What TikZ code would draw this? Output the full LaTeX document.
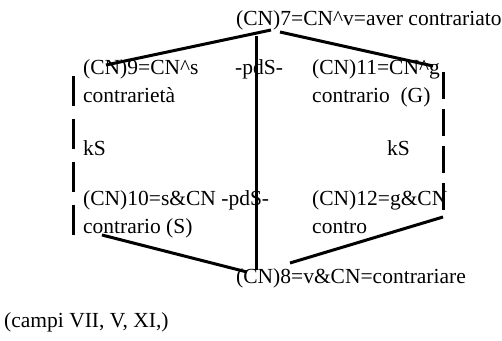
\documentclass[tikz,border=0pt]{standalone}
\usepackage{fontspec}
\setmainfont{Liberation Serif}
\usepackage{tikz}
\usetikzlibrary{calc}

\begin{document}
\begin{tikzpicture}[x=1pt, y=-1pt,
    lbl/.style={anchor=base west, inner sep=0pt, font=\fontsize{21.5}{28}\selectfont},
    link/.style={line width=3pt},
    kslink/.style={line width=3pt, dash pattern=on 30pt off 13pt}]
    \useasboundingbox (0,0) rectangle (502,340);

    % Vertices of the hexagon
    \node[lbl] (n7) at (236, 25) {(CN)7=CN\^{}v=aver contrariato};
    \node[lbl] (n9) at (83, 74) {(CN)9=CN\^{}s};
    \node[lbl] (n9b) at (83, 102) {contrarietà};
    \node[lbl] (pdsA) at (235, 74) {-pdS-};
    \node[lbl] (n11) at (312, 74) {(CN)11=CN\^{}g};
    \node[lbl] (n11b) at (312, 102) {contrario\ \ (G)};
    \node[lbl] (ksL) at (83, 155) {kS};
    \node[lbl] (ksR) at (387, 155) {kS};
    \node[lbl] (n10) at (83, 205) {(CN)10=s\&CN -pdS-};
    \node[lbl] (n10b) at (83, 233) {contrario (S)};
    \node[lbl] (n12) at (312, 205) {(CN)12=g\&CN};
    \node[lbl] (n12b) at (312, 233) {contro};
    \node[lbl] (n8) at (236, 283) {(CN)8=v\&CN=contrariare};
    \node[lbl] (campi) at (4, 327) {(campi VII, V, XI,)};

    % Connector ends
    \coordinate (t7L) at (271, 30);
    \coordinate (t7R) at (280, 32);
    \coordinate (t7C) at (256, 36);
    \coordinate (t9) at (106, 65);
    \coordinate (t11) at (433, 66);
    \coordinate (t10) at (102, 235);
    \coordinate (t12) at (443, 217);
    \coordinate (t8L) at (247, 272);
    \coordinate (t8R) at (290, 263);
    \coordinate (t8C) at (256, 270);
    \coordinate (kL1) at (73, 76);
    \coordinate (kL2) at (73, 238);
    \coordinate (kR1) at (443, 72);
    \coordinate (kR2) at (443, 210);

    % Contraries
    \draw[link] (t7L) -- (t9);
    \draw[link] (t7R) -- (t11);
    \draw[link] (t7C) -- (t8C);
    \draw[link] (t10) -- (t8L);
    \draw[link] (t12) -- (t8R);

    % kS sides
    \draw[kslink] (kL1) -- (kL2);
    \draw[kslink, dash pattern=on 27pt off 10pt] (kR1) -- (kR2);
\end{tikzpicture}
\end{document}
